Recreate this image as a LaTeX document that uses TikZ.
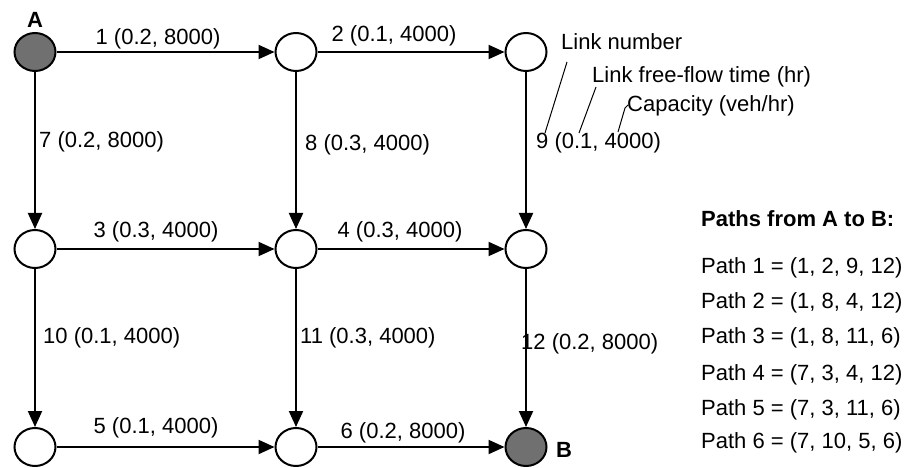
\documentclass[tikz,border=0pt]{standalone}
\usepackage{fontspec}
\setmainfont{Liberation Sans}
\usetikzlibrary{arrows.meta,shapes.geometric}
\definecolor{nodegray}{RGB}{112,112,112}
\begin{document}
\begin{tikzpicture}[x=1pt,y=-1pt,
  vtx/.style={draw,ellipse,line width=2pt,minimum width=41pt,minimum height=38pt,inner sep=0pt,fill=white},
  term/.style={vtx,fill=nodegray},
  link/.style={line width=2pt,-{Triangle[length=16pt,width=14pt]}},
  lbl/.style={font=\fontsize{22}{24}\selectfont,inner sep=0pt},
  lblw/.style={lbl,anchor=base west},
  lblc/.style={lbl,anchor=base},
  tag/.style={font=\fontsize{22}{24}\selectfont\bfseries,inner sep=0pt,anchor=base},
  note/.style={line width=1pt}
]
\useasboundingbox (0,0) rectangle (906,468);

% vertices
\node[term] (A)   at (35,52)  {};
\node[vtx]  (n12) at (296,52) {};
\node[vtx]  (n13) at (526,52) {};
\node[vtx]  (n21) at (35,249) {};
\node[vtx]  (n22) at (296,249) {};
\node[vtx]  (n23) at (526,249) {};
\node[vtx]  (n31) at (35,447) {};
\node[vtx]  (n32) at (296,447) {};
\node[term] (B)   at (526,447) {};

\node[tag] (labA) at (35,28) {A};
\node[tag,anchor=base west] (labB) at (556,457) {B};

% link labels
\node[lblc] (l1)  at (158,45)  {1 (0.2, 8000)};
\node[lblc] (l2)  at (394,42)  {2 (0.1, 4000)};
\node[lblw] (l7)  at (39,148)  {7 (0.2, 8000)};
\node[lblw] (l8)  at (305,151) {8 (0.3, 4000)};
\node[lblw] (l9)  at (536,149) {9 (0.1, 4000)};
\node[lblc] (l3)  at (156,237) {3 (0.3, 4000)};
\node[lblc] (l4)  at (400,238) {4 (0.3, 4000)};
\node[lblw] (l10) at (43,343)  {10 (0.1, 4000)};
\node[lblw] (l11) at (300,343) {11 (0.3, 4000)};
\node[lblw] (l12) at (521,349) {12 (0.2, 8000)};
\node[lblc] (l5)  at (156,433) {5 (0.1, 4000)};
\node[lblc] (l6)  at (403,438) {6 (0.2, 8000)};

% links
\draw[link] (A)   -- (n12);
\draw[link] (n12) -- (n13);
\draw[link] (A)   -- (n21);
\draw[link] (n12) -- (n22);
\draw[link] (n13) -- (n23);
\draw[link] (n21) -- (n22);
\draw[link] (n22) -- (n23);
\draw[link] (n21) -- (n31);
\draw[link] (n22) -- (n32);
\draw[link] (n23) -- (B);
\draw[link] (n31) -- (n32);
\draw[link] (n32) -- (B);

% legend annotations
\node[lblw] (t1) at (561,50)  {Link number};
\node[lblw] (t2) at (592,83)  {Link free-flow time (hr)};
\node[lblw] (t3) at (627,112) {Capacity (veh/hr)};
\coordinate (a1) at (545,133);
\coordinate (b1) at (567,62);
\coordinate (a2) at (579,133);
\coordinate (b2) at (596,87);
\coordinate (a3) at (618,132);
\coordinate (m3) at (625,108);
\coordinate (b3) at (628,105);
\draw[note] (a1) -- (b1);
\draw[note] (a2) -- (b2);
\draw[note] (a3) -- (m3) -- (b3);

% paths list
\node[tag,anchor=base west] (ph) at (701,226) {Paths from A to B:};
\node[lblw] (p1) at (701,273) {Path 1 = (1, 2, 9, 12)};
\node[lblw] (p2) at (701,308) {Path 2 = (1, 8, 4, 12)};
\node[lblw] (p3) at (701,343) {Path 3 = (1, 8, 11, 6)};
\node[lblw] (p4) at (701,380) {Path 4 = (7, 3, 4, 12)};
\node[lblw] (p5) at (701,415) {Path 5 = (7, 3, 11, 6)};
\node[lblw] (p6) at (701,448) {Path 6 = (7, 10, 5, 6)};
\end{tikzpicture}
\end{document}
